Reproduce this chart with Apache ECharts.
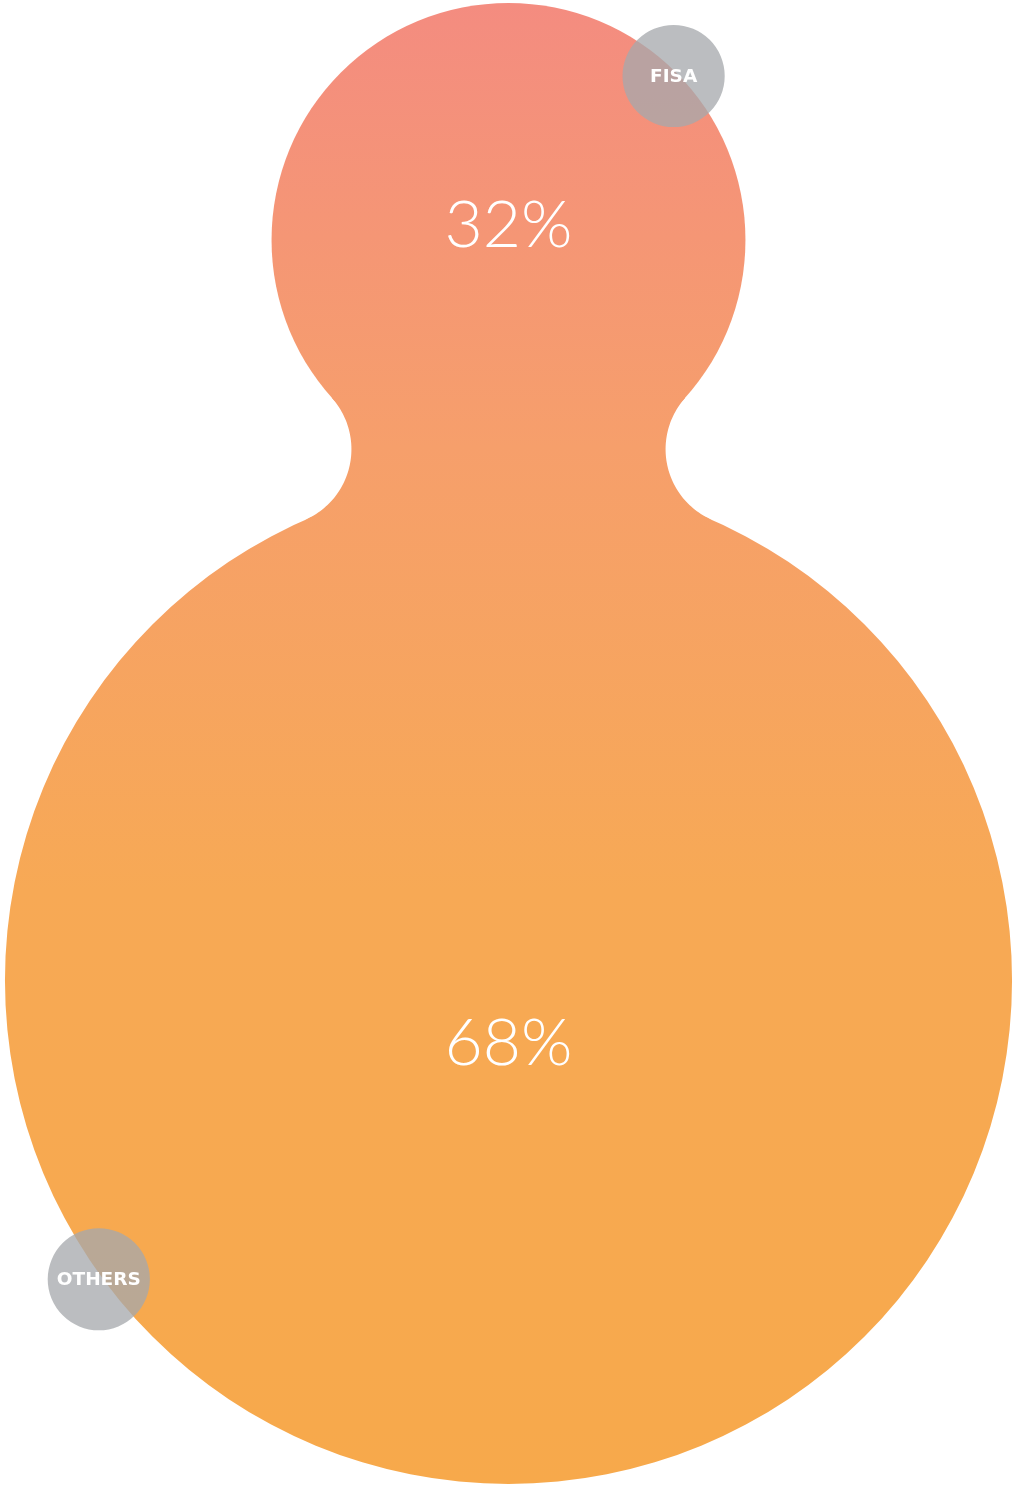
<!DOCTYPE html>
<html>
<head>
<meta charset="utf-8">
<script src="https://cdn.jsdelivr.net/npm/echarts@6/dist/echarts.min.js"></script>
<style>
  html, body { margin: 0; padding: 0; background: #fff; }
  #share-bubble-chart { width: 1013px; height: 1488px; }
</style>
</head>
<body>
<div id="share-bubble-chart"></div>
<script>
// data
var categories = ['FISA', 'OTHERS'];
var shares = [32, 68];
var shareLabels = ['32%', '68%'];

var total = shares.reduce(function (a, b) { return a + b; }, 0);

var share_bubble_chart = echarts.init(document.getElementById('share-bubble-chart'));

// where the grey tag sits on each bubble (degrees, screen coords, fraction of radius) and label nudge
var tagAngles = [-44.8, 143.9];
var tagDist = [0.982, 1.007];
var labelShift = [-0.06, 0.125];

function outerFillet(c1, r1, c2, r2, rf, side) {
    var dx = c2[0] - c1[0], dy = c2[1] - c1[1];
    var d = Math.sqrt(dx * dx + dy * dy);
    var a = r1 + rf, b = r2 + rf;
    var t = (a * a - b * b + d * d) / (2 * d);
    var h = Math.sqrt(Math.max(a * a - t * t, 0));
    var ux = dx / d, uy = dy / d;
    var px = -uy * side, py = ux * side;
    return [c1[0] + ux * t + px * h, c1[1] + uy * t + py * h];
}

function arcPts(c, r, a0, a1, n) {
    var pts = [];
    for (var i = 0; i <= n; i++) {
        var a = a0 + (a1 - a0) * i / n;
        pts.push([c[0] + r * Math.cos(a), c[1] + r * Math.sin(a)]);
    }
    return pts;
}

function renderItem(params, api) {
    var idx = params.dataIndex;
    var unit = api.size([0, 1])[1];
    var cx = api.coord([0, 0])[0];
    var yTop = api.coord([0, 0])[1];
    var yBot = api.coord([0, 2 * total])[1];

    var fill = new echarts.graphic.LinearGradient(0, yTop, 0, yBot, [
        {offset: 0, color: '#F48C80'},
        {offset: 0.3, color: '#F69F6B'},
        {offset: 0.6, color: '#F7A955'},
        {offset: 1, color: '#F7A94B'}
    ], true);

    var centers = [], radii = [], cum = 0;
    for (var i = 0; i < shares.length; i++) {
        radii.push(shares[i] * unit);
        centers.push([cx, api.coord([0, cum + shares[i]])[1]]);
        cum += 2 * shares[i];
    }

    var c = centers[idx], r = radii[idx];
    var children = [];

    children.push({
        type: 'circle',
        shape: {cx: c[0], cy: c[1], r: r},
        style: {fill: fill}
    });

    // neck between this bubble and the next one
    if (idx < shares.length - 1) {
        var c2 = centers[idx + 1], r2 = radii[idx + 1];
        var rf = 10.4 * unit;
        var fl = outerFillet(c, r, c2, r2, rf, 1);
        var fr = outerFillet(c, r, c2, r2, rf, -1);
        var aL0 = Math.atan2(c[1] - fl[1], c[0] - fl[0]);
        var aL1 = Math.atan2(c2[1] - fl[1], c2[0] - fl[0]);
        var aR0 = Math.atan2(c2[1] - fr[1], c2[0] - fr[0]);
        var aR1 = Math.atan2(c[1] - fr[1], c[0] - fr[0]);
        if (aR1 < aR0) aR1 += Math.PI * 2;
        if (aL1 < aL0) aL1 += Math.PI * 2;
        var pts = arcPts(fl, rf, aL0, aL1, 60).concat(arcPts(fr, rf, aR0, aR1, 60));
        children.push({
            type: 'polygon',
            shape: {points: pts},
            style: {fill: fill}
        });
    }

    children.push({
        type: 'text',
        x: c[0],
        y: c[1] + labelShift[idx] * r,
        style: {
            text: shareLabels[idx],
            fill: '#ffffff',
            font: '300 66px Lato, "Open Sans", sans-serif',
            align: 'center',
            verticalAlign: 'middle'
        }
    });

    var ang = tagAngles[idx] * Math.PI / 180;
    var tx = c[0] + tagDist[idx] * r * Math.cos(ang);
    var ty = c[1] + tagDist[idx] * r * Math.sin(ang);
    children.push({
        type: 'circle',
        z2: 10,
        shape: {cx: tx, cy: ty, r: 6.9 * unit},
        style: {fill: 'rgba(166,168,172,0.76)'}
    });
    children.push({
        type: 'text',
        z2: 11,
        x: tx,
        y: ty + 1,
        style: {
            text: categories[idx],
            fill: '#ffffff',
            font: 'bold 18.5px "DejaVu Sans", Lato, sans-serif',
            align: 'center',
            verticalAlign: 'middle'
        }
    });

    return {type: 'group', children: children};
}

share_bubble_chart.setOption({
    animation: false,
    grid: {left: 4, right: 0, top: 3, bottom: 4},
    xAxis: {type: 'value', min: -1, max: 1, show: false},
    yAxis: {type: 'value', min: 0, max: 2 * total, inverse: true, show: false},
    series: [
        {
            type: 'custom',
            renderItem: renderItem,
            data: shares.map(function (v, i) { return [0, v]; })
        }
    ]
});
</script>
</body>
</html>
